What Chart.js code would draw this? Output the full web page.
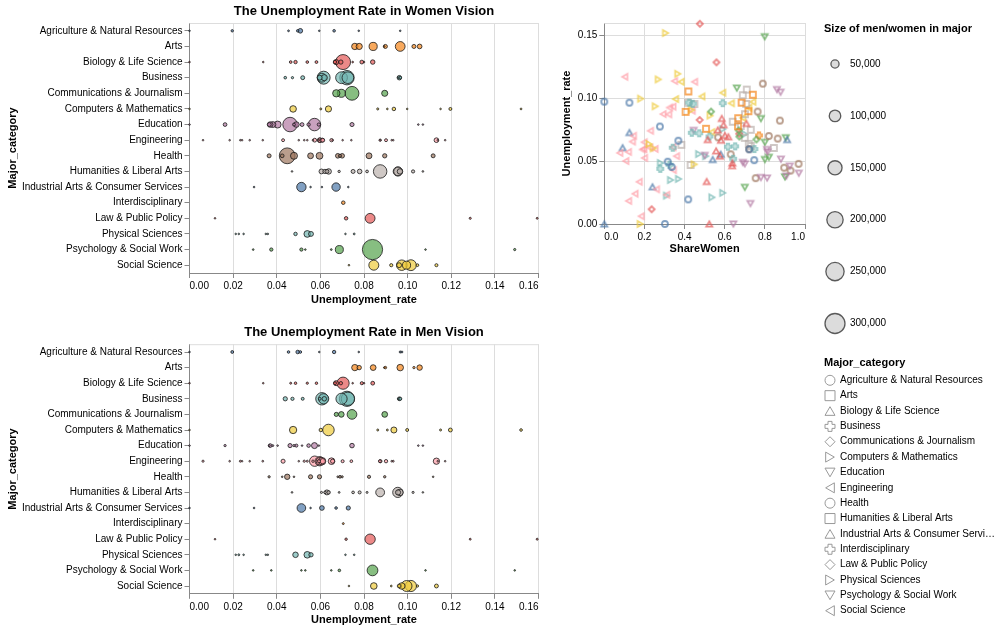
<!DOCTYPE html>
<html>
<head>
<meta charset="utf-8">
<script src="https://cdn.jsdelivr.net/npm/chart.js@4.4.1/dist/chart.umd.min.js"></script>
<style>
  body { margin: 0; background: #fff; }
  #page { position: relative; width: 1001px; height: 632px; overflow: hidden; }
  canvas { position: absolute; }
</style>
</head>
<body>
<div id="page">
  <canvas id="womenChart" width="545" height="315" style="left:0;top:0"></canvas>
  <canvas id="menChart" width="545" height="312" style="left:0;top:320px"></canvas>
  <canvas id="shareChart" width="456" height="632" style="left:545px;top:0"></canvas>
</div>
<script>
const FONT = '"Liberation Sans", Arial, Helvetica, sans-serif';
Chart.defaults.font.family = FONT;
Chart.defaults.color = '#000';

const categories = [
  "Agriculture & Natural Resources", "Arts", "Biology & Life Science", "Business",
  "Communications & Journalism", "Computers & Mathematics", "Education", "Engineering",
  "Health", "Humanities & Liberal Arts", "Industrial Arts & Consumer Services",
  "Interdisciplinary", "Law & Public Policy", "Physical Sciences",
  "Psychology & Social Work", "Social Science"
];

// one row per major: [Unemployment_rate, ShareWomen, Men, Women]
const agriculture = [
  [0.0196, 0.418, 6053, 4346], [0.0454, 0.336, 5000, 2500], [0.0496, 0.316, 9658, 4582],
  [0.0508, 0.747, 5347, 16226], [0.0595, 0.722, 404, 1084], [0.0663, 0.369, 8617, 5156],
  [0.0776, 0.277, 1749, 690], [0.0966, 0.125, 3156, 451], [0.0974, 0.0, 2600, 0],
  [0.0, 0.302, 476, 209]
];
const arts = [
  [0.0758, 0.507, 29909, 30724], [0.0778, 0.666, 14440, 28809], [0.0842, 0.667, 24786, 49654],
  [0.0893, 0.405, 1970, 1370], [0.0898, 0.718, 4754, 12223], [0.0966, 0.684, 32041, 71439],
  [0.1029, 0.740, 4047, 12203], [0.1055, 0.419, 22357, 16404]
];
const biology = [
  [0.0704, 0.601, 111762, 168947], [0.0672, 0.515, 18951, 20156], [0.0667, 0.581, 6383, 8849],
  [0.0790, 0.594, 7426, 10874], [0.0464, 0.637, 3050, 5359], [0.0840, 0.585, 10787, 15178],
  [0.0540, 0.576, 3878, 5276], [0.0, 0.523, 626, 703], [0.0694, 0.618, 8422, 13638],
  [0.0486, 0.638, 4944, 8719], [0.0338, 0.510, 1761, 1874], [0.0800, 0.708, 515, 1247],
  [0.0582, 0.557, 4747, 5959], [0.0748, 0.565, 1667, 2164]
];
const business = [
  [0.0722, 0.473, 173809, 156118], [0.0726, 0.436, 132238, 102352], [0.0697, 0.524, 94519, 104114],
  [0.0615, 0.616, 78857, 126354], [0.0607, 0.341, 115030, 59476], [0.0597, 0.748, 6184, 18313],
  [0.0962, 0.590, 10624, 15270], [0.0618, 0.652, 15204, 28443], [0.0519, 0.642, 6431, 11516],
  [0.0957, 0.441, 2110, 1667], [0.0439, 0.279, 13496, 5217], [0.0472, 0.325, 7921, 3811],
  [0.0966, 0.423, 7575, 5550]
];
const communications = [
  [0.0745, 0.670, 70619, 143377], [0.0696, 0.673, 23736, 48883],
  [0.0895, 0.532, 24704, 28120], [0.0673, 0.758, 12862, 40300]
];
const computers = [
  [0.0637, 0.223, 99743, 28576], [0.0, 0.179, 500, 109], [0.0475, 0.448, 39956, 32441],
  [0.0907, 0.434, 2794, 2145], [0.0863, 0.527, 2960, 3291], [0.0937, 0.254, 27392, 9306],
  [0.1151, 0.269, 3046, 1122], [0.0602, 0.244, 9005, 2908], [0.1520, 0.305, 5291, 2322],
  [0.0998, 0.181, 6607, 1459], [0.1196, 0.366, 11431, 6604]
];
const education = [
  [0.0461, 0.924, 13029, 157833], [0.0573, 0.813, 26893, 116825], [0.0404, 0.969, 1167, 36422],
  [0.0382, 0.907, 2682, 26057], [0.0490, 0.690, 7022, 23449], [0.0163, 0.728, 3872, 10365],
  [0.0745, 0.445, 15670, 12543], [0.0546, 0.500, 9648, 8550], [0.0479, 0.700, 3800, 6600],
  [0.0370, 0.780, 10732, 23449], [0.0366, 0.811, 2734, 11709], [0.0593, 0.810, 2000, 8150],
  [0.1049, 0.878, 134, 964], [0.1070, 0.860, 120, 700], [0.0, 0.643, 280, 524],
  [0.0516, 0.880, 1500, 11000]
];
const engineering = [
  [0.0184, 0.121, 2057, 282], [0.1172, 0.102, 679, 77], [0.0241, 0.153, 725, 131],
  [0.0501, 0.107, 1123, 135], [0.0611, 0.342, 21239, 11021], [0.0574, 0.120, 80320, 10907],
  [0.0597, 0.197, 65511, 16016], [0.0651, 0.199, 33258, 8284], [0.0656, 0.140, 12953, 2105],
  [0.0901, 0.438, 8407, 6548], [0.0233, 0.311, 2949, 1330], [0.0062, 0.184, 3526, 795],
  [0.0873, 0.321, 6062, 2863], [0.0429, 0.344, 12453, 6515], [0.0598, 0.253, 45683, 15469],
  [0.1138, 0.350, 1835, 990], [0.0875, 0.293, 8181, 3384], [0.0927, 0.325, 2020, 973],
  [0.0608, 0.227, 41081, 12072], [0.0593, 0.190, 7398, 1735], [0.0934, 0.342, 2662, 1385],
  [0.0336, 0.174, 2400, 506], [0.0566, 0.077, 4419, 371], [0.1132, 0.450, 29909, 16511],
  [0.0702, 0.145, 7000, 1200], [0.0276, 0.260, 1900, 680], [0.0526, 0.200, 3700, 900],
  [0.0742, 0.230, 5500, 1650], [0.0540, 0.360, 3000, 1700]
];
const health = [
  [0.0448, 0.896, 21773, 187621], [0.0365, 0.754, 3916, 11998], [0.0425, 0.928, 803, 10320],
  [0.0479, 0.968, 1225, 37054], [0.0555, 0.630, 12979, 25258], [0.0596, 0.722, 13487, 35004],
  [0.0680, 0.864, 2563, 16346], [0.0690, 0.567, 5521, 7219], [0.0700, 0.820, 3435, 15664],
  [0.0823, 0.875, 7574, 26025], [0.0895, 0.764, 4266, 13843], [0.1117, 0.790, 1589, 11797]
];
const humanities = [
  [0.0874, 0.701, 58227, 136446], [0.0955, 0.449, 78253, 63698], [0.0965, 0.417, 31967, 22847],
  [0.0956, 0.707, 20000, 56000], [0.0470, 0.430, 2100, 1600], [0.0605, 0.845, 3240, 17790],
  [0.0621, 0.730, 5000, 13900], [0.0630, 0.384, 18616, 11591], [0.0638, 0.720, 8739, 22456],
  [0.0686, 0.700, 2400, 4200], [0.0750, 0.730, 5400, 11900], [0.0780, 0.680, 7022, 16000],
  [0.0814, 0.640, 3000, 5600], [0.1025, 0.690, 3472, 7732], [0.1070, 0.710, 900, 2100]
];
const industrial = [
  [0.0607, 0.091, 16820, 1678], [0.0, 0.0, 124, 0], [0.0728, 0.125, 13257, 1893],
  [0.0296, 0.240, 2000, 640], [0.0672, 0.911, 5166, 52835], [0.0513, 0.540, 56000, 66000],
  [0.0555, 0.580, 800, 1100]
];
const interdisciplinary = [
  [0.0705, 0.771, 2817, 9479]
];
const law = [
  [0.0828, 0.475, 80231, 72593], [0.1594, 0.476, 2947, 2682], [0.1287, 0.559, 2639, 3339],
  [0.0117, 0.236, 877, 271], [0.0718, 0.672, 4435, 9093]
];
const physical = [
  [0.0212, 0.536, 832, 960], [0.0486, 0.280, 23080, 9062], [0.0540, 0.505, 32923, 33607],
  [0.0557, 0.470, 14000, 18000], [0.0248, 0.590, 752, 1666], [0.0226, 0.310, 2744, 1299],
  [0.0350, 0.330, 700, 350], [0.0359, 0.370, 894, 542], [0.0715, 0.700, 528, 1588],
  [0.0755, 0.590, 1809, 2600]
];
const psychology = [
  [0.0839, 0.780, 86648, 307087], [0.1491, 0.799, 931, 3695], [0.1082, 0.660, 900, 1900],
  [0.0687, 0.904, 5137, 48415], [0.0292, 0.700, 900, 2100], [0.0375, 0.900, 1200, 8200],
  [0.0513, 0.800, 1900, 7700], [0.0531, 0.820, 300, 1100], [0.0650, 0.800, 500, 2350]
];
const social = [
  [0.1015, 0.486, 93880, 88741], [0.0995, 0.355, 89749, 49498], [0.0973, 0.740, 32510, 82923],
  [0.0961, 0.633, 10345, 17842], [0.1132, 0.383, 11404, 7076], [0.0845, 0.690, 33000, 75000],
  [0.0731, 0.535, 1200, 2000], [0.0925, 0.720, 2337, 7579], [0.1045, 0.590, 4000, 5500]
];

const rowsByCategory = [
  agriculture, arts, biology, business, communications, computers, education, engineering,
  health, humanities, industrial, interdisciplinary, law, physical, psychology, social
];

const palette = ["#4c78a8", "#f58518", "#e45756", "#72b7b2", "#54a24b",
                 "#eeca3b", "#b279a2", "#ff9da6", "#9d755d", "#bab0ac"];
const shapes = ["circle", "square", "triangle-up", "cross", "diamond",
                "triangle-right", "triangle-down", "triangle-left"];
const sizeLegendValues = [50000, 100000, 150000, 200000, 250000, 300000];
const legendNames = categories.map(c => c === "Industrial Arts & Consumer Services" ? "Industrial Arts & Consumer Servi\u2026" : c);

const UNEMP = 0, SHARE = 1, MEN = 2, WOMEN = 3;
const sizeRadius = v => 10 * Math.sqrt(v / 300000);

function withAlpha(hex, a) {
  const n = parseInt(hex.slice(1), 16);
  return `rgba(${n >> 16},${(n >> 8) & 255},${n & 255},${a})`;
}

// vega style symbol outlines
function tracePath(g, shape, x, y, size) {
  const r = Math.sqrt(size) / 2, h = r * Math.sqrt(3) / 2, s = r / 2.5;
  g.beginPath();
  switch (shape) {
    case "circle": g.arc(x, y, r, 0, Math.PI * 2); break;
    case "square": g.rect(x - r, y - r, 2 * r, 2 * r); break;
    case "triangle-up": g.moveTo(x, y - h); g.lineTo(x - r, y + h); g.lineTo(x + r, y + h); break;
    case "triangle-down": g.moveTo(x, y + h); g.lineTo(x - r, y - h); g.lineTo(x + r, y - h); break;
    case "triangle-right": g.moveTo(x + h, y); g.lineTo(x - h, y - r); g.lineTo(x - h, y + r); break;
    case "triangle-left": g.moveTo(x - h, y); g.lineTo(x + h, y - r); g.lineTo(x + h, y + r); break;
    case "diamond": g.moveTo(x - r, y); g.lineTo(x, y - r); g.lineTo(x + r, y); g.lineTo(x, y + r); break;
    case "cross":
      [[-r, -s], [-r, s], [-s, s], [-s, r], [s, r], [s, s], [r, s], [r, -s], [s, -s], [s, -r], [-s, -r], [-s, -s]]
        .forEach(([dx, dy], k) => k ? g.lineTo(x + dx, y + dy) : g.moveTo(x + dx, y + dy));
      break;
  }
  g.closePath();
}

function shapeCanvas(shape, color) {
  const c = document.createElement("canvas");
  c.width = 14; c.height = 14;
  const g = c.getContext("2d");
  g.strokeStyle = color;
  g.lineWidth = 1.8;
  tracePath(g, shape, 7, 7, 36);
  g.stroke();
  return c;
}

const viewBorder = {
  id: "viewBorder",
  beforeDatasetsDraw(chart) {
    const { ctx, chartArea: a } = chart;
    ctx.save();
    ctx.strokeStyle = "#ddd";
    ctx.lineWidth = 1;
    ctx.beginPath();
    ctx.moveTo(a.left, a.top + 0.5);
    ctx.lineTo(a.right, a.top + 0.5);
    ctx.stroke();
    ctx.restore();
  }
};

function axisStyle(extra) {
  return Object.assign({
    grid: { color: "#ddd", tickColor: "#888", tickLength: 5 },
    border: { color: "#888" }
  }, extra);
}

function stripChart(id, sizeCol, title, layout) {
  const titlePlugin = {
    id: "stripTitle",
    afterDraw(chart) {
      const { ctx, chartArea: a } = chart;
      ctx.save();
      ctx.font = "bold 13px " + FONT;
      ctx.fillStyle = "#000";
      ctx.textAlign = "center";
      ctx.textBaseline = "middle";
      ctx.fillText(title, (a.left + a.right) / 2, layout.titleY);
      ctx.restore();
    }
  };
  const datasets = categories.map((name, i) => ({
    data: rowsByCategory[i]
      .filter(r => r[sizeCol] > 0)
      .sort((a, b) => b[sizeCol] - a[sizeCol])
      .map(r => ({ x: r[UNEMP], y: name, r: Math.max(0.8, sizeRadius(r[sizeCol])) })),
    backgroundColor: withAlpha(palette[i % 10], 0.7),
    borderColor: "rgba(25,25,25,0.8)",
    borderWidth: 1,
    clip: false
  }));
  return new Chart(document.getElementById(id), {
    type: "bubble",
    data: { datasets },
    options: {
      responsive: false,
      animation: false,
      events: [],
      layout: { autoPadding: false, padding: { left: 0, top: layout.top, right: 6.5, bottom: 0 } },
      plugins: { legend: { display: false }, tooltip: { enabled: false } },
      scales: {
        x: axisStyle({
          type: "linear", min: 0, max: 0.16,
          afterFit: s => { s.height = layout.xHeight; },
          ticks: { stepSize: 0.02, align: "inner", padding: 2, maxRotation: 0, font: { size: 10 },
                   callback: v => v.toFixed(2) },
          title: { display: true, text: "Unemployment_rate", font: { size: 11, weight: "bold" },
                   padding: { top: 0, bottom: layout.xTitlePad } }
        }),
        y: {
          type: "category", labels: categories, offset: true,
          afterFit: s => { s.width = 189.5; },
          ticks: { autoSkip: false, padding: 2, font: { size: 10 } },
          grid: { drawOnChartArea: false, offset: false, tickColor: "#888", tickLength: 5 },
          border: { color: "#888" },
          title: { display: true, text: "Major_category", font: { size: 11, weight: "bold" },
                   padding: { top: 6, bottom: 0 } }
        }
      }
    },
    plugins: [viewBorder, titlePlugin]
  });
}

stripChart("womenChart", WOMEN, "The Unemployment Rate in Women Vision",
  { top: 23, xHeight: 42, xTitlePad: 8.4, titleY: 11 });
stripChart("menChart", MEN, "The Unemployment Rate in Men Vision",
  { top: 24.2, xHeight: 38.2, xTitlePad: 5.4, titleY: 12 });

// legends drawn beside the scatter plot (canvas starts at page x 545)
const sideLegends = {
  id: "sideLegends",
  afterDraw(chart) {
    const ctx = chart.ctx;
    ctx.save();
    ctx.textBaseline = "middle";
    ctx.textAlign = "left";
    ctx.fillStyle = "#000";
    ctx.font = "bold 11px " + FONT;
    ctx.fillText("Size of men/women in major", 279, 29);
    sizeLegendValues.forEach((v, i) => {
      const y = 64 + i * 51.9;
      ctx.beginPath();
      ctx.arc(290, y, sizeRadius(v), 0, Math.PI * 2);
      ctx.fillStyle = "rgba(205,205,205,0.7)";
      ctx.fill();
      ctx.strokeStyle = "rgba(40,40,40,0.75)";
      ctx.lineWidth = 1.3;
      ctx.stroke();
      ctx.fillStyle = "#000";
      ctx.font = "10px " + FONT;
      ctx.fillText(v.toLocaleString("en-US"), 305, y);
    });
    ctx.font = "bold 11px " + FONT;
    ctx.fillText("Major_category", 279, 362.5);
    ctx.font = "10px " + FONT;
    legendNames.forEach((name, i) => {
      const y = 380.3 + i * 15.36;
      ctx.strokeStyle = "#999";
      ctx.lineWidth = 1;
      tracePath(ctx, shapes[i % 8], 285, y, 100);
      ctx.stroke();
      ctx.fillText(name, 295, y);
    });
    ctx.restore();
  }
};

new Chart(document.getElementById("shareChart"), {
  type: "scatter",
  data: {
    datasets: categories.map((name, i) => ({
      label: name,
      data: rowsByCategory[i].map(r => ({ x: r[SHARE], y: r[UNEMP] })),
      pointStyle: shapeCanvas(shapes[i % 8], withAlpha(palette[i % 10], 0.7)),
      pointRadius: 3,
      clip: false
    }))
  },
  options: {
    responsive: false,
    animation: false,
    events: [],
    layout: { autoPadding: false, padding: { left: 0, top: 23, right: 196, bottom: 368 } },
    plugins: { legend: { display: false }, tooltip: { enabled: false } },
    scales: {
      x: axisStyle({
        type: "linear", min: 0, max: 1,
        afterFit: s => { s.height = 40; },
        ticks: { stepSize: 0.2, align: "inner", padding: 2, maxRotation: 0, font: { size: 10 },
                 callback: v => v.toFixed(1) },
        title: { display: true, text: "ShareWomen", font: { size: 11, weight: "bold" },
                 padding: { top: 0, bottom: 8 } }
      }),
      y: axisStyle({
        type: "linear", min: 0, max: 0.16,
        afterFit: s => { s.width = 59.3; },
        ticks: { stepSize: 0.05, includeBounds: false, padding: 2, font: { size: 10 },
                 callback: v => v.toFixed(2) },
        title: { display: true, text: "Unemployment_rate", font: { size: 11, weight: "bold" },
                 padding: { top: 15.7, bottom: 0 } }
      })
    }
  },
  plugins: [viewBorder, sideLegends]
});
</script>
</body>
</html>
